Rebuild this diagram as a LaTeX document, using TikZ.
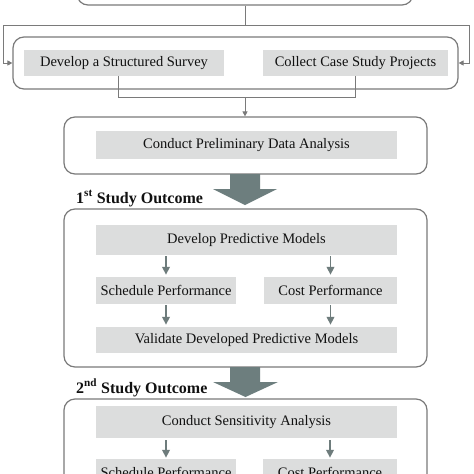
\documentclass[tikz,border=0pt]{standalone}
\usepackage{fontspec}
\setmainfont{Liberation Serif}
\usetikzlibrary{arrows.meta,calc}
\definecolor{frame}{HTML}{7A7A7A}
\definecolor{boxfill}{HTML}{DCDDDD}
\definecolor{arrowc}{HTML}{6E7C7C}
\definecolor{bigc}{HTML}{6D7E7E}
\definecolor{txt}{HTML}{111111}
\tikzset{
  outerbox/.style={draw=frame, line width=1.2pt, rounded corners=11pt, inner sep=0pt},
  greybox/.style={fill=boxfill, inner sep=0pt, text=txt, font=\fontsize{14.5}{16}\selectfont},
  thinline/.style={draw=frame, line width=0.9pt},
  thinarrow/.style={thinline, -{Triangle[length=5pt,width=5pt]}},
  smallarrow/.style={draw=arrowc, line width=1.8pt, -{Triangle[length=8pt,width=7.5pt]}},
  bigarrow/.style={fill=bigc, draw=none},
  outcome/.style={anchor=base west, inner sep=0pt, text=txt, font=\fontsize{16}{18}\selectfont\bfseries}
}
\begin{document}
\begin{tikzpicture}[x=1pt,y=-1pt]
\useasboundingbox (0,0) rectangle (474,474);
\clip (0,0) rectangle (474,474);
\fill[white] (0,0) rectangle (474,474);

% top box (mostly cut off)
\node[outerbox, minimum width=336pt, minimum height=45pt] (top) at (245,-17.5) {};

% box 2
\node[outerbox, minimum width=445pt, minimum height=52pt] (b2) at (235.5,63) {};
\node[greybox, minimum width=200pt, minimum height=26pt] (s1) at (124,63) {Develop a Structured Survey};
\node[greybox, minimum width=185pt, minimum height=26pt] (s2) at (355.5,63) {Collect Case Study Projects};

% box 3
\node[outerbox, minimum width=363pt, minimum height=57pt] (b3) at (245.5,145.5) {};
\node[greybox, minimum width=301pt, minimum height=28pt] (pda) at (246.5,145) {Conduct Preliminary Data Analysis};

% box 4
\node[outerbox, minimum width=363pt, minimum height=158pt] (b4) at (245.5,288) {};
\node[greybox, minimum width=301pt, minimum height=30pt] (dpm) at (246.5,240) {Develop Predictive Models};
\node[greybox, minimum width=140pt, minimum height=27pt] (sp1) at (166,290.5) {Schedule Performance};
\node[greybox, minimum width=133pt, minimum height=27pt] (cp1) at (330.5,290.5) {Cost Performance};
\node[greybox, minimum width=301pt, minimum height=26pt] (vdp) at (246.5,340) {Validate Developed Predictive Models};

% box 5
\node[outerbox, minimum width=363pt, minimum height=130pt] (b5) at (245.5,464) {};
\node[greybox, minimum width=301pt, minimum height=32pt] (csa) at (246.5,422) {Conduct Sensitivity Analysis};
\node[greybox, minimum width=140pt, minimum height=27pt] (sp2) at (166,472.5) {Schedule Performance};
\node[greybox, minimum width=134pt, minimum height=27pt] (cp2) at (330,472.5) {Cost Performance};

% outcome labels
\node[outcome] (o1) at (76,203) {1\textsuperscript{st} Study Outcome};
\node[outcome] (o2) at (76,393) {2\textsuperscript{nd} Study Outcome};

% connectors top -> box 2
\coordinate (j1) at (245,25);
\coordinate (jl) at (3,25);
\coordinate (jr) at (469,25);
\draw[thinline] (top.south) -- (j1);
\draw[thinarrow] (j1) -- (jl) |- (b2.west);
\draw[thinarrow] (j1) -- (jr) |- (b2.east);

% box 2 -> box 3
\coordinate (m1) at (118,97);
\coordinate (m2) at (355,97);
\coordinate (m3) at (245,97);
\draw[thinline] (s1.south -| m1) -- (m1) -- (m2) -- (s2.south -| m2);
\draw[thinarrow] (m3) -- (b3.north -| m3);

% big arrows
\filldraw[bigarrow] (230,174) -- (260,174) -- (260,189) -- (277,189) -- (245,205) -- (213,189) -- (230,189) -- cycle;
\filldraw[bigarrow] (230,367) -- (260,367) -- (260,382) -- (278,382) -- (245.5,397) -- (213,382) -- (230,382) -- cycle;

% small arrows box 4
\draw[smallarrow, shorten <=1pt, shorten >=2pt] (dpm.south -| sp1.north) -- (sp1.north);
\draw[smallarrow, shorten <=1pt, shorten >=2pt] (dpm.south -| cp1.north) -- (cp1.north);
\draw[smallarrow, shorten <=1pt, shorten >=2pt] (sp1.south) -- (sp1.south |- vdp.north);
\draw[smallarrow, shorten <=1pt, shorten >=2pt] (cp1.south) -- (cp1.south |- vdp.north);

% small arrows box 5
\draw[smallarrow, shorten <=2pt, shorten >=1pt] (csa.south -| sp2.north) -- (sp2.north);
\draw[smallarrow, shorten <=2pt, shorten >=1pt] (csa.south -| cp2.north) -- (cp2.north);
\end{tikzpicture}
\end{document}
